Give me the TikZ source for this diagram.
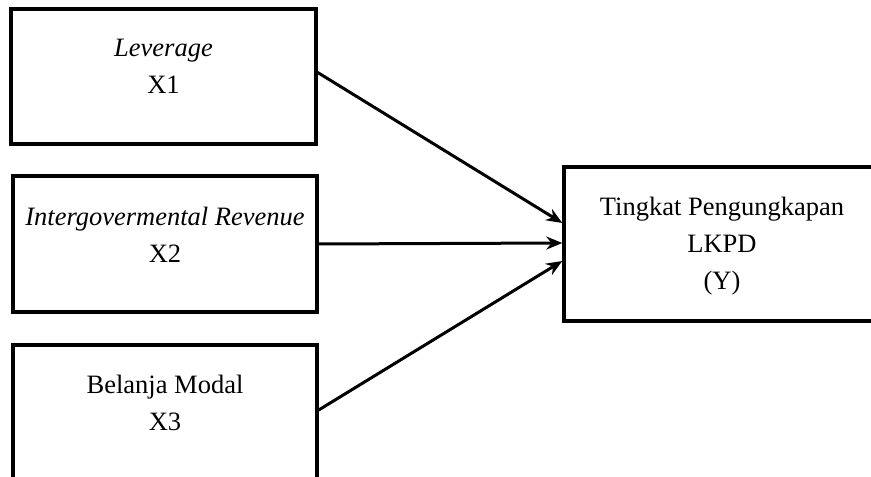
\documentclass[tikz,border=0pt]{standalone}
\usepackage{fontspec}
\setmainfont{Liberation Serif}
\usetikzlibrary{arrows.meta, positioning}

\begin{document}
\begin{tikzpicture}[line width=3pt,
    arr/.style={-{Stealth[length=16pt, width=13pt]}, line width=3pt},
    box/.style={rectangle, draw, line width=3.4pt, inner sep=0pt},
    txt/.style={align=center, inner sep=0pt, anchor=north, font=\fontsize{26.5}{37}\selectfont}]
\useasboundingbox (0pt,0pt) rectangle (871pt,477pt);

    \node[box, minimum width=305pt, minimum height=135pt] (X1) at (163.5pt,400.5pt) {};
    \node[box, minimum width=304pt, minimum height=136pt] (X2) at (165pt,233pt) {};
    \node[box, minimum width=304pt, minimum height=136pt] (X3) at (165pt,64pt) {};
    \node[box, minimum width=316pt, minimum height=154pt] (Y) at (722pt,233pt) {};

    \node[txt] (X1t) at ([yshift=-30pt]X1.north) {\textit{Leverage}\\X1};
    \node[txt] (X2t) at ([yshift=-31pt]X2.north) {\textit{Intergovermental Revenue}\\X2};
    \node[txt] (X3t) at ([yshift=-30pt]X3.north) {Belanja Modal\\X3};
    \node[txt] (Yt) at ([yshift=-30pt]Y.north) {Tingkat Pengungkapan\\LKPD\\(Y)};
\path
        ([yshift=4pt]X1.east) edge[arr] ([yshift=21pt]Y.west)
        (X2.east) edge[arr] ([yshift=1pt]Y.west)
        ([yshift=3pt]X3.east) edge[arr] ([yshift=-17pt]Y.west)
;
\end{tikzpicture}
\end{document}
